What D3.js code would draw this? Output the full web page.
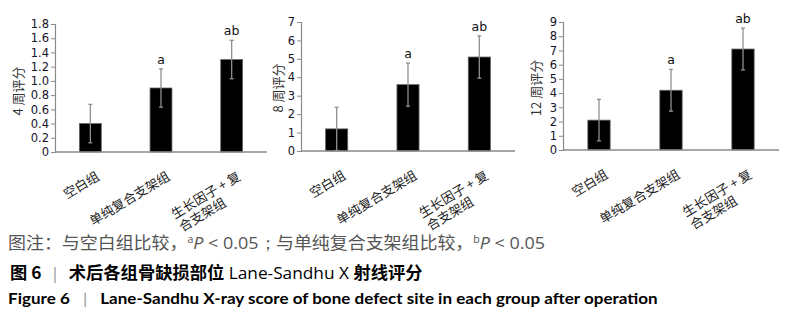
<!DOCTYPE html>
<html>
<head>
<meta charset="utf-8">
<script src="https://cdn.jsdelivr.net/npm/d3@7"></script>
<style>
  body { margin: 0; background: #fff; }
  svg { display: block; }
</style>
</head>
<body>
<div id="chart"></div>
<script>
// data
const groups = ["空白组", "单纯复合支架组", "生长因子 + 复合支架组"];
const groupLines = [["空白组"], ["单纯复合支架组"], ["生长因子 + 复", "合支架组"]];
const sigLabels = ["", "a", "ab"];

const mean4 = [0.4, 0.9, 1.3];
const sd4 = [0.27, 0.27, 0.27];
const mean8 = [1.2, 3.6, 5.1];
const sd8 = [1.17, 1.17, 1.15];
const mean12 = [2.1, 4.2, 7.1];
const sd12 = [1.46, 1.47, 1.47];

const yTicks4 = [0, 0.2, 0.4, 0.6, 0.8, 1.0, 1.2, 1.4, 1.6, 1.8];
const yTicks8 = [0, 1, 2, 3, 4, 5, 6, 7];
const yTicks12 = [0, 1, 2, 3, 4, 5, 6, 7, 8, 9];

const width = 795, height = 310;
const cjk = "'Noto Sans CJK SC', sans-serif";
const numFont = "'DejaVu Sans', Verdana, sans-serif";

const svg = d3.select("#chart").append("svg")
    .attr("width", width)
    .attr("height", height);

svg.append("rect").attr("width", width).attr("height", height).attr("fill", "#fff");

// one small bar chart per time point
function drawPanel(opt) {
    let g = svg.append("g");

    let x = d3.scaleBand()
        .domain(groups)
        .range([opt.left, opt.right])
        .paddingInner(0.69)
        .paddingOuter(0.345);

    let y = d3.scaleLinear()
        .domain([0, opt.max])
        .range([opt.bottom, opt.top]);

    // y axis
    let yAxis = g.append("g")
        .attr("transform", `translate(${opt.left},0)`)
        .call(d3.axisLeft(y).tickValues(opt.ticks).tickSize(4).tickPadding(2)
            .tickFormat(d => d === 0 ? "0" : opt.fmt(d)));
    yAxis.select(".domain").attr("stroke", "#8a8a8a").attr("stroke-width", 1.2);
    yAxis.selectAll(".tick line").attr("stroke", "#8a8a8a");
    yAxis.selectAll(".tick text")
        .attr("fill", "#14142a")
        .style("font-family", numFont)
        .style("font-size", "11.5px");

    // bars
    let rows = groups.map((k, i) => ({k: k, m: opt.mean[i], s: opt.sd[i], sig: sigLabels[i], lines: groupLines[i]}));

    g.selectAll(".bar")
        .data(rows)
        .enter()
        .append("rect")
        .attr("x", d => x(d.k))
        .attr("y", d => y(d.m))
        .attr("width", x.bandwidth())
        .attr("height", d => y(0) - y(d.m))
        .attr("fill", "#000")
        .attr("stroke", "#666")
        .attr("stroke-width", 0.8);

    // error bars
    let eb = g.selectAll(".err")
        .data(rows)
        .enter()
        .append("g")
        .attr("stroke", "#909090")
        .attr("stroke-width", 1.3);
    eb.append("line")
        .attr("x1", d => x(d.k) + x.bandwidth() / 2)
        .attr("x2", d => x(d.k) + x.bandwidth() / 2)
        .attr("y1", d => y(d.m + d.s))
        .attr("y2", d => y(d.m - d.s));
    eb.append("line")
        .attr("x1", d => x(d.k) + x.bandwidth() / 2 - 2)
        .attr("x2", d => x(d.k) + x.bandwidth() / 2 + 2)
        .attr("y1", d => y(d.m + d.s))
        .attr("y2", d => y(d.m + d.s));
    eb.append("line")
        .attr("x1", d => x(d.k) + x.bandwidth() / 2 - 2)
        .attr("x2", d => x(d.k) + x.bandwidth() / 2 + 2)
        .attr("y1", d => y(d.m - d.s))
        .attr("y2", d => y(d.m - d.s));

    // x axis line
    g.append("line")
        .attr("x1", opt.left)
        .attr("x2", opt.right)
        .attr("y1", y(0))
        .attr("y2", y(0))
        .attr("stroke", "#8a8a8a")
        .attr("stroke-width", 1.5);

    // significance letters
    g.selectAll(".sig")
        .data(rows.filter(d => d.sig))
        .enter()
        .append("text")
        .attr("x", d => x(d.k) + x.bandwidth() / 2)
        .attr("y", d => y(d.m + d.s) - 5)
        .attr("text-anchor", "middle")
        .style("font-family", numFont)
        .style("font-size", "12.5px")
        .attr("fill", "#111")
        .text(d => d.sig);

    // rotated group labels, lines left aligned, block ends at the anchor
    rows.forEach(d => {
        let lab = g.append("g")
            .attr("transform", `translate(${x(d.k) + x.bandwidth() / 2 + 10},${y(0) + 27}) rotate(-31)`);
        let txt = lab.append("text")
            .style("font-family", cjk)
            .style("font-size", "13px")
            .attr("fill", "#222");
        let spans = d.lines.map((ln, j) => txt.append("tspan").attr("x", 0).attr("y", j * 15).text(ln));
        let w = d3.max(spans, s => s.node().getComputedTextLength());
        spans.forEach(s => s.attr("x", -w));
    });

    // y title
    g.append("text")
        .attr("transform", `translate(${opt.titleX},${opt.titleY}) rotate(-90)`)
        .attr("text-anchor", "middle")
        .attr("dy", "0.35em")
        .style("font-family", cjk)
        .style("font-size", "13px")
        .attr("fill", "#333")
        .text(opt.title);
}

drawPanel({left: 55, right: 267, top: 24, bottom: 152, max: 1.8, ticks: yTicks4, fmt: d3.format(".1f"),
    mean: mean4, sd: sd4, title: "4 周评分", titleX: 18, titleY: 91});
drawPanel({left: 301, right: 515, top: 22, bottom: 151, max: 7, ticks: yTicks8, fmt: d3.format("d"),
    mean: mean8, sd: sd8, title: "8 周评分", titleX: 278, titleY: 88});
drawPanel({left: 563, right: 779, top: 22, bottom: 150, max: 9, ticks: yTicks12, fmt: d3.format("d"),
    mean: mean12, sd: sd12, title: "12 周评分", titleX: 536, titleY: 88});

// captions: squeeze each line to the width it has in the figure
function caption(x0, x1, yBase, parts, size) {
    let t = svg.append("text")
        .attr("y", 0)
        .style("white-space", "pre")
        .style("font-size", size + "px");
    parts.forEach(p => {
        let s = t.append("tspan").text(p.t)
            .style("font-family", p.f || cjk)
            .style("font-weight", p.b ? "bold" : "normal")
            .style("font-style", p.i ? "italic" : "normal")
            .attr("fill", p.c || "#000");
        if (p.size) s.style("font-size", p.size + "px");
        if (p.dy) s.attr("dy", p.dy);
    });
    let w = t.node().getComputedTextLength();
    t.attr("transform", `translate(${x0},${yBase}) scale(${(x1 - x0) / w},1)`);
}

const lat = "'Open Sans', 'Noto Sans', sans-serif";
const nb = "\u00a0";
caption(8, 546, 249, [
    {t: "图注：与空白组比较，", c: "#555"},
    {t: "a", f: lat, c: "#555", size: 10, dy: -6},
    {t: "P", f: lat, i: true, c: "#555", dy: 6},
    {t: nb + "<" + nb + "0.05；", f: lat, c: "#555"},
    {t: "与单纯复合支架组比较，", c: "#555"},
    {t: "b", f: lat, c: "#555", size: 10, dy: -6},
    {t: "P", f: lat, i: true, c: "#555", dy: 6},
    {t: nb + "<" + nb + "0.05", f: lat, c: "#555"}
], 17);

caption(10, 423, 279, [
    {t: "图 6", b: true},
    {t: nb + nb + "|" + nb + nb, f: lat, c: "#999"},
    {t: "术后各组骨缺损部位", b: true},
    {t: nb + "Lane-Sandhu X" + nb, f: lat},
    {t: "射线评分", b: true}
], 17);

caption(8, 658, 304, [
    {t: "Figure 6", f: "Lato, sans-serif", b: true},
    {t: nb + nb + nb + "|" + nb + nb + nb, f: "Lato, sans-serif", c: "#999"},
    {t: "Lane-Sandhu X-ray score of bone defect site in each group after operation", f: "Lato, sans-serif", b: true}
], 15);
</script>
</body>
</html>
